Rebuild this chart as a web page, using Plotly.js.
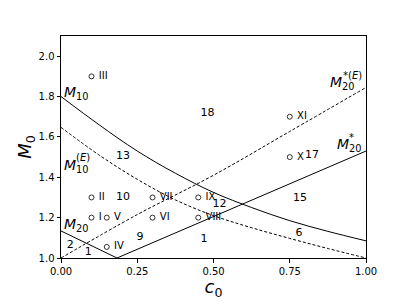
<!DOCTYPE html>
<html><head><meta charset="utf-8">
<script src="https://cdn.plot.ly/plotly-3.0.1.min.js"></script>
<style>html,body{margin:0;padding:0;background:#fff}#chart{width:407px;height:305px}</style>
</head><body><div id="chart"></div>
<script>
// Curve samples
const cM10 = [0, 0.125, 0.25, 0.375, 0.5, 0.625, 0.75, 0.875, 1.0];
const vM10 = [1.8, 1.66, 1.53, 1.42, 1.325, 1.25, 1.185, 1.132, 1.085];
const cM10E = [0, 0.125, 0.25, 0.375, 0.5, 0.625, 0.75, 0.875, 1.0];
const vM10E = [1.647, 1.51, 1.39, 1.288, 1.21, 1.15, 1.097, 1.047, 1.0];
const cM20 = [0, 0.1836];
const vM20 = [1.134, 1.0];
const cM20s = [0.1836, 1.0];
const vM20s = [1.0, 1.53];
const cM20sE = [0, 0.25, 0.5, 0.75, 1.0];
const vM20sE = [1.0, 1.215, 1.41, 1.627, 1.845];

// Marked points
const ptC = [0.1, 0.1, 0.1, 0.15, 0.15, 0.3, 0.3, 0.45, 0.45, 0.75, 0.75];
const ptM = [1.9, 1.3, 1.2, 1.2, 1.055, 1.3, 1.2, 1.3, 1.2, 1.5, 1.7];
const ptLabels = ["III", "II", "I", "V", "IV", "VII", "VI", "IX", "VIII", "X", "XI"];

// Region numbers
const regC = [0.48, 0.203, 0.203, 0.52, 0.823, 0.784, 0.78, 0.469, 0.259, 0.03, 0.089];
const regM = [1.716, 1.502, 1.30, 1.264, 1.51, 1.295, 1.124, 1.095, 1.104, 1.065, 1.03];
const regLabels = ["18", "13", "10", "12", "17", "15", "6", "1", "9", "2", "1"];

// Curve labels: main part (letter + subscript) and the superscript part, left-anchored
const curveLabels = [
  {c: 0.008, m: 1.816, t: "<i>M</i><sub>10</sub>"},
  {c: 0.008, m: 1.458, t: "<i>M</i><sub>10</sub>"},
  {c: 0.006, m: 1.164, t: "<i>M</i><sub>20</sub>"},
  {c: 0.880, m: 1.866, t: "<i>M</i><sub>20</sub>"},
  {c: 0.900, m: 1.562, t: "<i>M</i><sub>20</sub>"},
  {c: 0.150, m: 0.952, t: "<i>c</i><sub>0</sub>"}
];
const supLabels = [
  {c: 0.045, m: 1.50, t: "(<i>E</i>)"},
  {c: 0.921, m: 1.903, t: "*(<i>E</i>)"},
  {c: 0.942, m: 1.598, t: "*"},
  {c: 0.176, m: 0.993, t: "*"}
];

const F = "DejaVu Sans, sans-serif";
const solid = {color: "black", width: 1};
const dashed = {color: "black", width: 1, dash: "3px,2px"};

const traces = [
  {x: cM10, y: vM10, mode: "lines", line: Object.assign({shape: "spline", smoothing: 1}, solid)},
  {x: cM10E, y: vM10E, mode: "lines", line: Object.assign({shape: "spline", smoothing: 1}, dashed)},
  {x: cM20, y: vM20, mode: "lines", line: solid},
  {x: cM20s, y: vM20s, mode: "lines", line: solid},
  {x: cM20sE, y: vM20sE, mode: "lines", line: Object.assign({shape: "spline", smoothing: 1}, dashed)},
  {x: ptC, y: ptM, mode: "markers+text", text: ptLabels.map(s => " " + s), textposition: "middle right",
   marker: {symbol: "circle-open", size: 5, color: "black", line: {width: 0.8, color: "black"}},
   textfont: {family: F, size: 10, color: "black"}, cliponaxis: false},
  {x: regC, y: regM, mode: "text", text: regLabels, textposition: "middle center",
   textfont: {family: F, size: 11, color: "black"}, cliponaxis: false}
];

const annotations = curveLabels.map(l => ({
  x: l.c, y: l.m, xref: "x", yref: "y", text: l.t, showarrow: false,
  xanchor: "left", yanchor: "middle", borderpad: 0,
  font: {family: F, size: 14, color: "black"}
})).concat(supLabels.map(l => ({
  x: l.c, y: l.m, xref: "x", yref: "y", text: l.t, showarrow: false,
  xanchor: "left", yanchor: "middle", borderpad: 0,
  font: {family: F, size: 10, color: "black"}
})));

const axisCommon = {
  showgrid: false, zeroline: false, showline: true, mirror: true,
  linecolor: "black", linewidth: 1, ticks: "outside", ticklen: 3.5, tickwidth: 1,
  tickcolor: "black", tickfont: {family: F, size: 10, color: "black"}
};

const layout = {
  width: 407, height: 305,
  margin: {l: 61, r: 41, t: 36, b: 47},
  paper_bgcolor: "white", plot_bgcolor: "white",
  showlegend: false,
  xaxis: Object.assign({}, axisCommon, {range: [0, 1], tickvals: [0, 0.25, 0.5, 0.75, 1.0],
    tickformat: ".2f", title: {text: "<i>c</i><sub>0</sub>", font: {family: F, size: 18, color: "black"}, standoff: 4}}),
  yaxis: Object.assign({}, axisCommon, {range: [1.0, 2.1], tickvals: [1.0, 1.2, 1.4, 1.6, 1.8, 2.0],
    tickformat: ".1f", title: {text: "<i>M</i><sub>0</sub>", font: {family: F, size: 18, color: "black"}, standoff: 2}}),
  annotations: annotations
};

Plotly.newPlot("chart", traces, layout, {displayModeBar: false, staticPlot: true});
</script></body></html>
